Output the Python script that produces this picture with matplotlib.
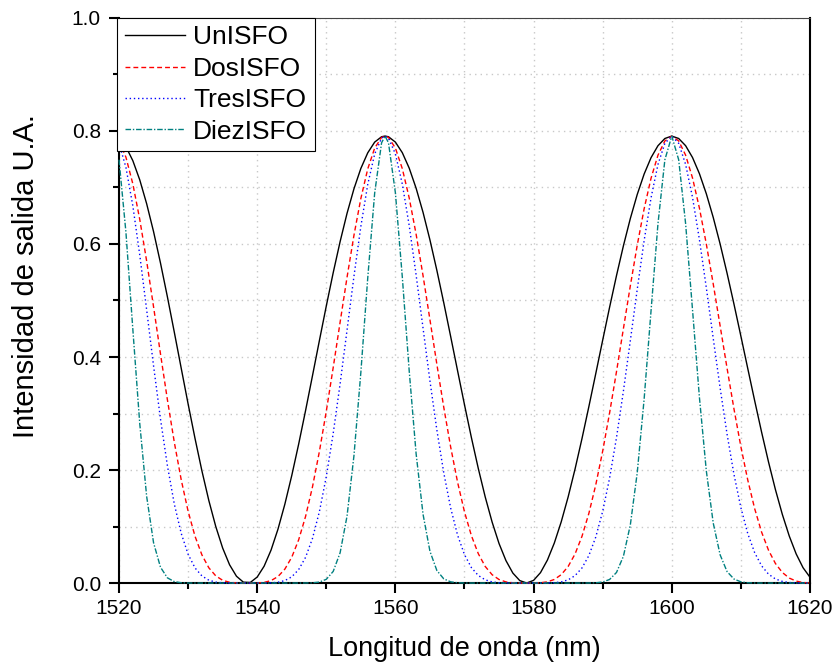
import numpy as np
import matplotlib
matplotlib.use("Agg")
import matplotlib.pyplot as plt
from matplotlib.ticker import MultipleLocator, FormatStrFormatter

plt.rcParams['font.family'] = ['Liberation Sans', 'DejaVu Sans']

# wavelength samples (nm), peak point 1558.5 included
wavelength = list(range(1520, 1559)) + [1558.5] + list(range(1559, 1621))

# output intensity (a.u.)
un_isfo = [
    .7867, .7721, .7474, .7135, .6712, .6218, .5664, .5066, .4440, .3802,
    .3169, .2558, .1983, .1459, .1001, .0619, .0323, .0120, .0015, .0010,
    .0106, .0298, .0582, .0951, .1395, .1902, .2459, .3053, .3669, .4291,
    .4904, .5493, .6043, .6542, .6976, .7337, .7614, .7803, .7898, .7910,
    .7898, .7803, .7616, .7342, .6986, .6560, .6072, .5534, .4960, .4362,
    .3756, .3155, .2574, .2026, .1523, .1078, .0699, .0397, .0176, .0043,
    .0000, .0047, .0184, .0406, .0708, .1083, .1523, .2017, .2554, .3122,
    .3707, .4298, .4880, .5441, .5968, .6450, .6876, .7238, .7528, .7739,
    .7867, .7910, .7867, .7740, .7531, .7245, .6889, .6470, .5999, .5484,
    .4937, .4370, .3795, .3225, .2670, .2143, .1654, .1215, .0833, .0516,
    .0271, .0103]

dos_isfo = [
    .7824, .7536, .7063, .6436, .5696, .4887, .4056, .3245, .2492, .1828,
    .1270, .0827, .0497, .0269, .0127, .0048, .0013, .0002, .0000, .0000,
    .0001, .0011, .0043, .0114, .0246, .0457, .0765, .1179, .1702, .2328,
    .3041, .3815, .4617, .5410, .6153, .6805, .7330, .7697, .7886, .7910,
    .7886, .7698, .7333, .6814, .6171, .5440, .4660, .3872, .3110, .2406,
    .1784, .1259, .0838, .0519, .0293, .0147, .0062, .0020, .0004, .0000,
    .0000, .0000, .0004, .0021, .0063, .0148, .0293, .0514, .0825, .1232,
    .1738, .2335, .3010, .3742, .4502, .5259, .5978, .6624, .7164, .7571,
    .7824, .7910, .7824, .7573, .7169, .6636, .5999, .5293, .4549, .3802,
    .3082, .2414, .1821, .1315, .0901, .0581, .0346, .0187, .0088, .0034,
    .0009, .0001]

tres_isfo = [
    .7782, .7355, .6674, .5806, .4834, .3842, .2904, .2078, .1399, .0879,
    .0509, .0267, .0125, .0050, .0016, .0004, .0001, .0000, .0000, .0000,
    .0000, .0000, .0003, .0014, .0043, .0110, .0238, .0455, .0790, .1263,
    .1885, .2649, .3527, .4474, .5427, .6311, .7056, .7593, .7874, .7910,
    .7874, .7594, .7061, .6324, .5450, .4511, .3577, .2709, .1950, .1327,
    .0847, .0502, .0273, .0133, .0057, .0020, .0005, .0001, .0000, .0000,
    .0000, .0000, .0000, .0001, .0006, .0020, .0056, .0131, .0266, .0486,
    .0814, .1269, .1857, .2574, .3397, .4288, .5197, .6061, .6818, .7407,
    .7782, .7910, .7782, .7410, .6826, .6078, .5225, .4329, .3450, .2635,
    .1923, .1334, .0874, .0536, .0304, .0157, .0072, .0029, .0009, .0002,
    .0000, .0000]

diez_isfo = [
    .7491, .6208, .4489, .2821, .1532, .0712, .0280, .0092, .0025, .0005,
    .0001, .0000, .0000, .0000, .0000, .0000, .0000, .0000, .0000, .0000,
    .0000, .0000, .0000, .0000, .0000, .0000, .0000, .0001, .0004, .0017,
    .0066, .0206, .0536, .1184, .2252, .3727, .5404, .6901, .7791, .7910,
    .7791, .6905, .5416, .3752, .2286, .1217, .0562, .0222, .0074, .0021,
    .0005, .0001, .0000, .0000, .0000, .0000, .0000, .0000, .0000, .0000,
    .0000, .0000, .0000, .0000, .0000, .0000, .0000, .0000, .0000, .0001,
    .0004, .0018, .0063, .0187, .0473, .1028, .1950, .3257, .4820, .6356,
    .7490, .7910, .7491, .6363, .4839, .3286, .1985, .1061, .0498, .0203,
    .0071, .0021, .0005, .0001, .0000, .0000, .0000, .0000, .0000, .0000,
    .0000, .0000]

fig = plt.figure(figsize=(8.37, 6.68), dpi=100)
ax = fig.add_axes([0.1422, 0.1272, 0.8255, 0.8459])

ax.plot(wavelength, un_isfo, color='black', lw=1.0, label='UnISFO', zorder=3, clip_on=False)
ax.plot(wavelength, dos_isfo, color='#ff0000', lw=1.0, ls=(0, (3.5, 2.2)), label='DosISFO', zorder=3, clip_on=False)
ax.plot(wavelength, tres_isfo, color='#0000ff', lw=1.0, ls=(0, (1, 2)), label='TresISFO', zorder=3, clip_on=False)
ax.plot(wavelength, diez_isfo, color='#008080', lw=1.0, ls=(0, (4, 1.3, 1, 1.3)), label='DiezISFO', zorder=3, clip_on=False)

ax.set_xlim(1520, 1620)
ax.set_ylim(0, 1.0)
ax.xaxis.set_major_locator(MultipleLocator(20))
ax.xaxis.set_minor_locator(MultipleLocator(10))
ax.yaxis.set_major_locator(MultipleLocator(0.2))
ax.yaxis.set_minor_locator(MultipleLocator(0.1))
ax.yaxis.set_major_formatter(FormatStrFormatter('%.1f'))

ax.set_axisbelow(True)
ax.grid(True, which='both', ls=(0, (1, 3)), color='#c8c8c8', lw=1.0)

ax.tick_params(which='both', direction='out', width=1.5, top=False, right=False)
ax.tick_params(which='major', length=7.5, labelsize=15)
ax.tick_params(which='minor', length=4)
ax.tick_params(axis='x', pad=4)
ax.tick_params(axis='y', pad=5.5)

for side in ['left', 'bottom', 'right']:
    ax.spines[side].set_linewidth(1.5)
ax.spines['top'].set_linewidth(0.8)
ax.spines['top'].set_color('#444444')

ax.set_xlabel('Longitud de onda (nm)', fontsize=19.5)
ax.set_ylabel('Intensidad de salida U.A.', fontsize=21)
ax.xaxis.set_label_coords(0.5, -0.094)
ax.yaxis.set_label_coords(-0.114, 0.543)

leg = ax.legend(loc='upper left', bbox_to_anchor=(-0.0025, 1.0), borderaxespad=0,
                fontsize=19, frameon=True, fancybox=False, framealpha=1,
                edgecolor='black', handlelength=2.3, handletextpad=0.3,
                borderpad=0.28, labelspacing=0.28)
leg.get_frame().set_linewidth(0.8)
leg.set_zorder(5)

fig.savefig('out.png', dpi=100)
